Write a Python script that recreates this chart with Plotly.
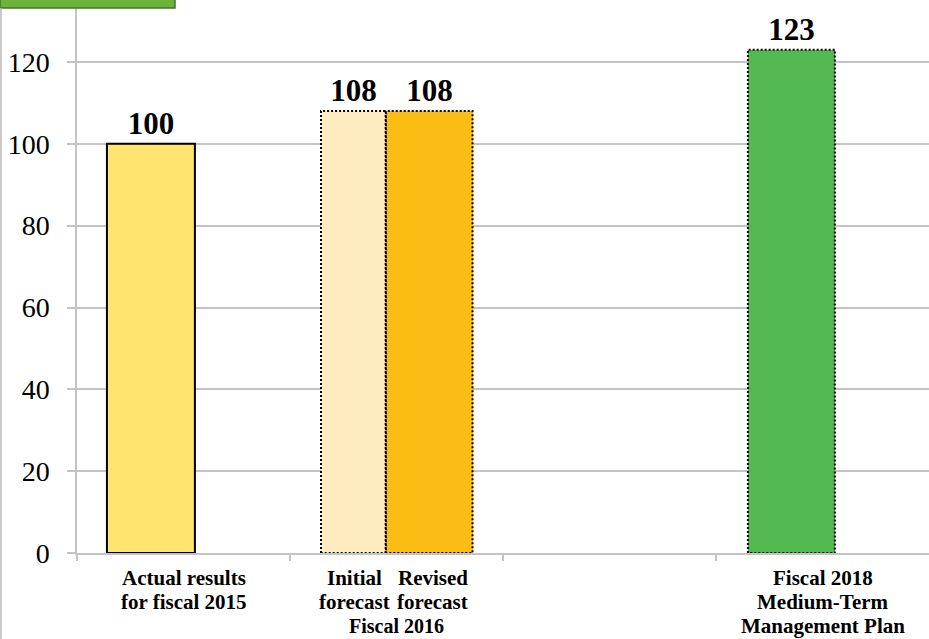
import plotly.graph_objects as go

# Values (index, fiscal 2015 actual = 100)
bar_names = ["Actual results for fiscal 2015", "Initial forecast", "Revised forecast",
             "Fiscal 2018 Medium-Term Management Plan"]
bar_values = [100, 108, 108, 123]
y_ticks = [0, 20, 40, 60, 80, 100, 120]

# Category labels drawn under the axis (one entry per text line)
cat_labels = [["Actual results", "for fiscal 2015"], ["Initial", "forecast"],
              ["Revised", "forecast"], ["Fiscal 2018", "Medium-Term", "Management Plan"]]
group_label = "Fiscal 2016"

# Layout / style (x axis runs in category-slot units, 4 slots)
bar_x = [0.347, 1.298, 1.653, 3.354]
bar_w = [0.413, 0.305, 0.408, 0.408]
label_x = [0.500, 1.305, 1.670, 3.500]
bar_colors = ["#FFE46F", "#FFEBC0", "#FBBC14", "#55B952"]
edge_dash = ["solid", "2px,2px", "2px,2px", "2px,2px"]
SERIF = "Liberation Serif"
GRID = "#c4c4c4"
PLOT_H = 553.0
LINE_Y = [578, 602, 626]   # pixel centres of label lines
GROUP_Y = 626

fig = go.Figure()
fig.add_trace(go.Bar(
    x=bar_x, y=bar_values, width=bar_w,
    marker=dict(color=bar_colors, line=dict(width=0)),
    text=[str(v) for v in bar_values], textposition="outside",
    textfont=dict(family=SERIF, size=31, color="black", weight="bold"),
    cliponaxis=False, hoverinfo="skip", showlegend=False,
))

# Bar outlines (solid for actual, dotted for plans/forecasts)
for cx, w, v, d in zip(bar_x, bar_w, bar_values, edge_dash):
    fig.add_trace(go.Scatter(
        x=[cx - w / 2, cx - w / 2, cx + w / 2, cx + w / 2, cx - w / 2],
        y=[0, v, v, 0, 0], mode="lines",
        line=dict(color="black", width=2, dash=d),
        hoverinfo="skip", showlegend=False, cliponaxis=False,
    ))

label_font = dict(family=SERIF, size=21, color="black", weight="bold")
for lx, lines in zip(label_x, cat_labels):
    for ly, txt in zip(LINE_Y, lines):
        fig.add_annotation(x=lx, y=(PLOT_H - ly) / PLOT_H, xref="x", yref="paper", text=txt,
                           showarrow=False, yanchor="middle", font=label_font)
fig.add_annotation(x=1.5, y=(PLOT_H - GROUP_Y) / PLOT_H, xref="x", yref="paper", text=group_label,
                   showarrow=False, yanchor="middle",
                   font=dict(family=SERIF, size=20, color="black", weight="bold"))

# Header tab and left frame line
W = 852.0
fig.add_shape(type="rect", xref="paper", yref="paper", x0=-77 / W, x1=(175 - 77) / W,
              y0=1 - 8 / PLOT_H, y1=1.02, fillcolor="#6CB33E", line=dict(color="#3F7A24", width=1.5),
              layer="above")
fig.add_shape(type="line", xref="paper", yref="paper", x0=-76 / W, x1=-76 / W,
              y0=-86 / PLOT_H, y1=1 - 8 / PLOT_H, line=dict(color="#b8b8b8", width=1.5))

fig.update_layout(
    width=929, height=639, margin=dict(l=77, r=0, t=0, b=86),
    plot_bgcolor="white", paper_bgcolor="white", bargap=0,
    xaxis=dict(range=[0, 4], tickvals=[0, 1, 2, 3], showticklabels=False,
               ticks="outside", ticklen=6, tickcolor=GRID, tickwidth=1.5,
               showgrid=False, showline=True, linecolor=GRID, linewidth=1.5, zeroline=False),
    yaxis=dict(range=[0, 135.15], tickvals=y_ticks, ticks="outside", ticklen=8,
               tickcolor=GRID, tickwidth=1.5, showgrid=True, gridcolor=GRID, gridwidth=1.5,
               showline=True, linecolor=GRID, linewidth=1.5, zeroline=False,
               ticklabelstandoff=12,
               tickfont=dict(family=SERIF, size=28, color="black")),
)

fig.write_html("out.html")
